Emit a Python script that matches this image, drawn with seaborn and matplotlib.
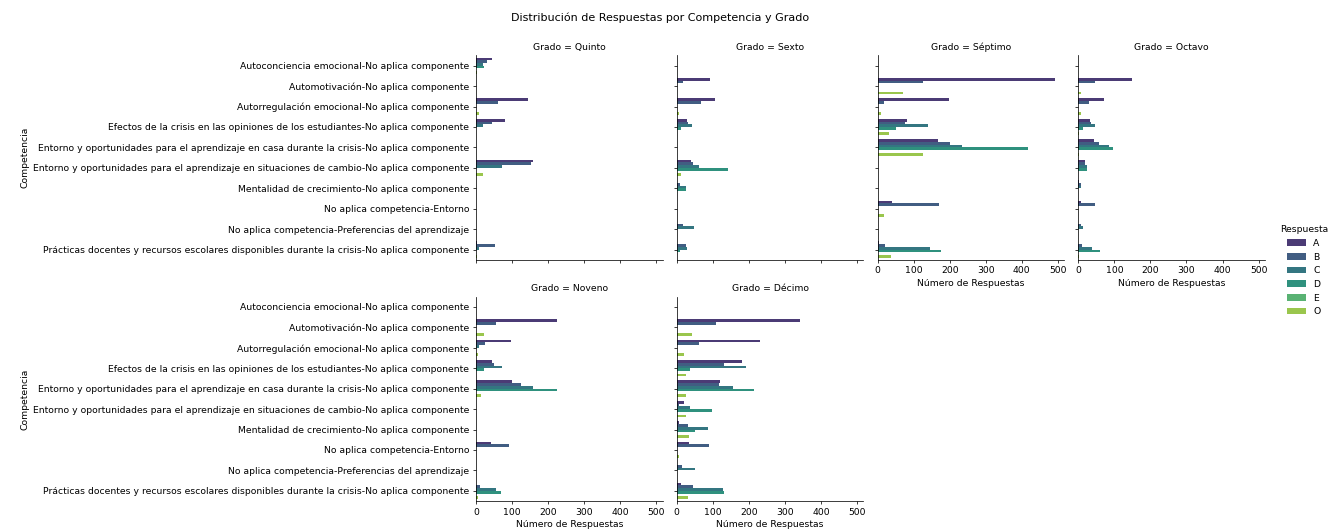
import matplotlib
matplotlib.use("Agg")
import matplotlib.pyplot as plt
import pandas as pd
import seaborn as sns

# Competencias evaluadas (eje de categorías)
competencias = [
    "Autoconciencia emocional-No aplica componente",
    "Automotivación-No aplica componente",
    "Autorregulación emocional-No aplica componente",
    "Efectos de la crisis en las opiniones de los estudiantes-No aplica componente",
    "Entorno y oportunidades para el aprendizaje en casa durante la crisis-No aplica componente",
    "Entorno y oportunidades para el aprendizaje en situaciones de cambio-No aplica componente",
    "Mentalidad de crecimiento-No aplica componente",
    "No aplica competencia-Entorno",
    "No aplica competencia-Preferencias del aprendizaje",
    "Prácticas docentes y recursos escolares disponibles durante la crisis-No aplica componente",
]

grados = ["Quinto", "Sexto", "Séptimo", "Octavo", "Noveno", "Décimo"]
respuestas = ["A", "B", "C", "D", "E", "O"]

N = None  # sin respuestas de ese tipo

# Conteos por grado: una lista por respuesta, en el orden de `competencias`
quinto = {
    "A": [44, N, 143, 80, N, 157, N, N, N, 3],
    "B": [31, N, 60, 45, N, 152, N, N, N, 52],
    "C": [20, N, N, 20, N, 73, N, N, N, 7],
    "D": [23, N, N, N, N, N, N, N, N, N],
    "O": [4, N, 7, N, N, 20, N, N, N, 4],
}
sexto = {
    "A": [N, 93, 105, 28, N, 39, 2, N, N, N],
    "B": [N, 17, 68, 32, N, 46, 10, N, 16, 26],
    "C": [N, N, N, 43, N, 62, 25, N, 47, 28],
    "D": [N, N, N, 11, N, 142, 25, N, N, 9],
    "O": [N, 2, 7, N, N, 11, N, N, N, N],
}
septimo = {
    "A": [N, 493, 199, 81, 168, N, N, 39, N, 3],
    "B": [N, 125, 19, 77, 201, N, N, 171, N, 22],
    "C": [N, N, N, 140, 234, N, N, N, N, 145],
    "D": [N, N, N, 51, 416, N, N, N, N, 175],
    "O": [N, 70, 9, 31, 126, N, N, 18, N, 37],
}
octavo = {
    "A": [N, 150, 72, 33, 43, 19, 2, 8, N, N],
    "B": [N, 47, 30, 35, 58, 19, 8, 47, 8, 11],
    "C": [N, N, N, 46, 85, 25, 7, N, 13, 39],
    "D": [N, N, N, 13, 96, 25, N, N, N, 61],
    "O": [N, 7, 7, 2, 2, N, N, N, N, 1],
}
noveno = {
    "A": [N, 225, 96, 45, 99, N, N, 42, N, N],
    "B": [N, 56, 25, 50, 125, N, N, 91, N, 11],
    "C": [N, N, 8, 71, 159, N, N, N, N, 56],
    "D": [N, N, N, 21, 225, N, N, N, N, 68],
    "O": [N, 22, 5, N, 14, N, N, N, N, 5],
}
decimo = {
    "A": [N, 343, 231, 180, 121, 19, 7, 34, N, 11],
    "B": [N, 110, 62, 130, 117, 6, 30, 89, 14, 45],
    "C": [N, N, N, 192, 155, 36, 86, N, 51, 128],
    "D": [N, N, N, 37, 213, 97, 51, N, N, 131],
    "O": [N, 41, 19, 26, 26, 26, 33, 5, 2, 30],
}

tablas = {
    "Quinto": quinto,
    "Sexto": sexto,
    "Séptimo": septimo,
    "Octavo": octavo,
    "Noveno": noveno,
    "Décimo": decimo,
}

filas = []
for grado, tabla in tablas.items():
    for resp, valores in tabla.items():
        for comp, v in zip(competencias, valores):
            if v is not None:
                filas.append((grado, comp, resp, v))
df = pd.DataFrame(filas, columns=["Grado", "Competencia", "Respuesta", "Número de Respuestas"])

DPI = 67
W, H = 1343, 531

g = sns.catplot(
    data=df,
    y="Competencia",
    x="Número de Respuestas",
    hue="Respuesta",
    col="Grado",
    col_wrap=4,
    kind="bar",
    order=competencias,
    hue_order=respuestas,
    col_order=grados,
    palette="viridis",
    errorbar=None,
    height=3,
    aspect=1,
)

fig = g.figure
fig.set_size_inches(W / DPI, H / DPI)
fig.subplots_adjust(
    left=476 / W,
    right=1265 / W,
    top=1 - 55.5 / H,
    bottom=1 - 501 / H,
    wspace=0.075,
    hspace=0.181,
)
sns.move_legend(g, "center right", bbox_to_anchor=(0.995, 0.49), frameon=False)
fig.suptitle("Distribución de Respuestas por Competencia y Grado",
             x=660 / W, y=1 - 18 / H, va="center")

fig.savefig("out.png", dpi=DPI)
